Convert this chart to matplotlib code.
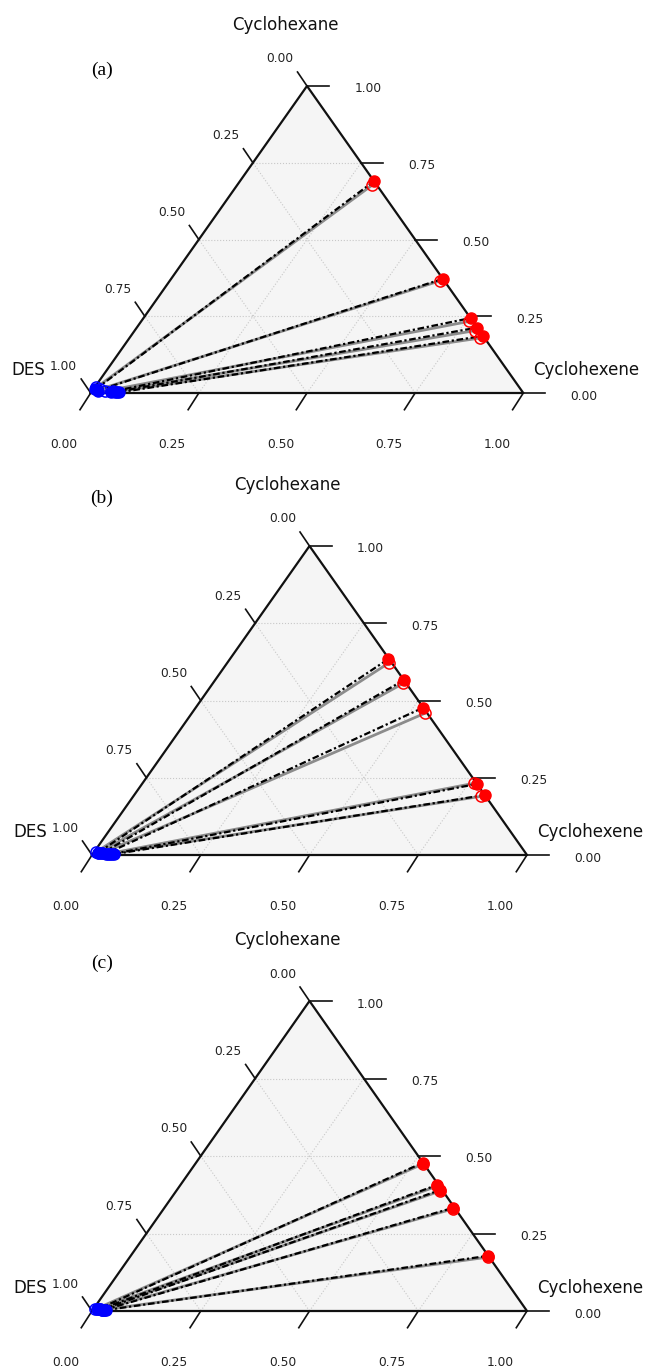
import numpy as np
import matplotlib
matplotlib.use("Agg")
import matplotlib.pyplot as plt

# mole fractions (cyclohexene, cyclohexane); DES = 1 - both
# panel (a)
a_org_chx = [0.310, 0.628, 0.756, 0.787, 0.814]
a_org_cha = [0.690, 0.372, 0.244, 0.213, 0.186]
a_des_chx = [0.005, 0.012, 0.045, 0.055, 0.065]
a_des_cha = [0.012, 0.008, 0.004, 0.003, 0.002]
a_org_chx_calc = [0.312, 0.624, 0.757, 0.786, 0.810]
a_org_cha_calc = [0.677, 0.365, 0.233, 0.203, 0.179]
a_des_chx_calc = [0.004, 0.015, 0.030, 0.048, 0.058]
a_des_cha_calc = [0.018, 0.012, 0.006, 0.005, 0.004]

# panel (b)
b_org_chx = [0.364, 0.434, 0.523, 0.770, 0.806]
b_org_cha = [0.634, 0.566, 0.477, 0.230, 0.194]
b_des_chx = [0.010, 0.020, 0.030, 0.045, 0.050]
b_des_cha = [0.008, 0.006, 0.004, 0.003, 0.003]
b_org_chx_calc = [0.372, 0.438, 0.536, 0.762, 0.800]
b_org_cha_calc = [0.622, 0.556, 0.459, 0.232, 0.190]
b_des_chx_calc = [0.005, 0.012, 0.020, 0.035, 0.040]
b_des_cha_calc = [0.010, 0.008, 0.006, 0.004, 0.004]

# panel (c)
c_org_chx = [0.521, 0.589, 0.605, 0.664, 0.822]
c_org_cha = [0.478, 0.406, 0.390, 0.333, 0.178]
c_des_chx = [0.010, 0.015, 0.020, 0.025, 0.030]
c_des_cha = [0.005, 0.005, 0.004, 0.003, 0.003]
c_org_chx_calc = [0.523, 0.591, 0.607, 0.666, 0.824]
c_org_cha_calc = [0.474, 0.402, 0.387, 0.330, 0.174]
c_des_chx_calc = [0.005, 0.010, 0.015, 0.020, 0.025]
c_des_cha_calc = [0.006, 0.006, 0.005, 0.004, 0.004]

ticks = [0.0, 0.25, 0.5, 0.75, 1.0]

W, H = 648, 1369
fig = plt.figure(figsize=(W / 100, H / 100), dpi=100)

# triangle box in pixels: left, right, apex y, base y
boxes = [(90.7, 523.3, 86, 393), (92, 527, 546, 855), (92, 527, 1001, 1311)]
letters = ["(a)", "(b)", "(c)"]
letter_y = [70, 498, 963]

panels = [
    (a_org_chx, a_org_cha, a_des_chx, a_des_cha,
     a_org_chx_calc, a_org_cha_calc, a_des_chx_calc, a_des_cha_calc),
    (b_org_chx, b_org_cha, b_des_chx, b_des_cha,
     b_org_chx_calc, b_org_cha_calc, b_des_chx_calc, b_des_cha_calc),
    (c_org_chx, c_org_cha, c_des_chx, c_des_cha,
     c_org_chx_calc, c_org_cha_calc, c_des_chx_calc, c_des_cha_calc),
]


def to_xy(b, c):
    b = np.asarray(b, dtype=float)
    c = np.asarray(c, dtype=float)
    return b + c / 2, c


for (L, R, T, B), let, ly, data in zip(boxes, letters, letter_y, panels):
    ax = fig.add_axes([L / W, 1 - B / H, (R - L) / W, (B - T) / H])
    ax.set_xlim(0, 1)
    ax.set_ylim(0, 1)
    ax.axis("off")
    px = 1 / (R - L)
    py = 1 / (B - T)

    # background + grid
    ax.fill([0, 1, 0.5], [0, 0, 1], color="#f5f5f5", zorder=0)
    for v in [0.25, 0.5, 0.75]:
        for p, q in [((0, v), (1 - v, v)), ((v, 0), (v, 1 - v)), ((1 - v, 0), (0, 1 - v))]:
            x, y = to_xy([p[0], q[0]], [p[1], q[1]])
            ax.plot(x, y, ls=":", color="#c8c8c8", lw=0.8, zorder=1)
    ax.plot([0, 1, 0.5, 0], [0, 0, 1, 0], color="#111111", lw=1.6, zorder=2,
            clip_on=False)

    # ticks and labels
    for v in ticks:
        # bottom axis (cyclohexene)
        x0, y0 = v, 0
        ax.plot([x0, x0 - 10.7 * px], [y0, y0 - 16.7 * py], color="#111111",
                lw=1.2, clip_on=False)
        ax.annotate(f"{v:.2f}", (x0, y0), xytext=(-26.5, -52), textcoords="offset pixels",
                    ha="center", va="center", fontsize=8.8, color="#222222")
        # left axis (DES)
        x0, y0 = (1 - v) / 2, 1 - v
        ax.plot([x0, x0 - 9.5 * px], [y0, y0 + 14 * py], color="#111111",
                lw=1.2, clip_on=False)
        ax.annotate(f"{v:.2f}", (x0, y0), xytext=(-27, 27), textcoords="offset pixels",
                    ha="center", va="center", fontsize=8.8, color="#222222")
        # right axis (cyclohexane)
        x0, y0 = 1 - v / 2, v
        ax.plot([x0, x0 + 22 * px], [y0, y0], color="#111111", lw=1.2, clip_on=False)
        ax.annotate(f"{v:.2f}", (x0, y0), xytext=(61, -3), textcoords="offset pixels",
                    ha="center", va="center", fontsize=8.8, color="#222222")

    ax.annotate("Cyclohexane", (0.5, 1), xytext=(-22, 61), textcoords="offset pixels",
                ha="center", va="center", fontsize=12, color="#111111")
    ax.annotate("DES", (0, 0), xytext=(-62, 23), textcoords="offset pixels",
                ha="center", va="center", fontsize=12, color="#111111")
    ax.annotate("Cyclohexene", (1, 0), xytext=(63, 23), textcoords="offset pixels",
                ha="center", va="center", fontsize=12, color="#111111")
    fig.text(102 / W, 1 - ly / H, let, ha="center", va="center", fontsize=14,
             family="Liberation Serif")

    (o_b, o_c, d_b, d_c, o_bc, o_cc, d_bc, d_cc) = data
    ox, oy = to_xy(o_b, o_c)
    dx, dy = to_xy(d_b, d_c)
    oxc, oyc = to_xy(o_bc, o_cc)
    dxc, dyc = to_xy(d_bc, d_cc)

    # tie lines
    for i in range(len(o_b)):
        ax.plot([dxc[i], oxc[i]], [dyc[i], oyc[i]], color="#8c8c8c", lw=2.0, zorder=3)
    for i in range(len(o_b)):
        ax.plot([dx[i], ox[i]], [dy[i], oy[i]], color="black", lw=1.6, zorder=4,
                dashes=(3, 1.2, 1, 1.2))

    ax.plot(ox, oy, "o", color="red", ms=8, zorder=6, clip_on=False)
    ax.plot(dx, dy, "o", color="blue", ms=8, zorder=6, clip_on=False)
    ax.plot(oxc, oyc, "o", mfc="none", mec="red", ms=8, mew=1.1, zorder=7, clip_on=False)
    ax.plot(dxc, dyc, "o", mfc="none", mec="blue", ms=8, mew=1.1, zorder=7, clip_on=False)

plt.savefig("out.png", dpi=100)
